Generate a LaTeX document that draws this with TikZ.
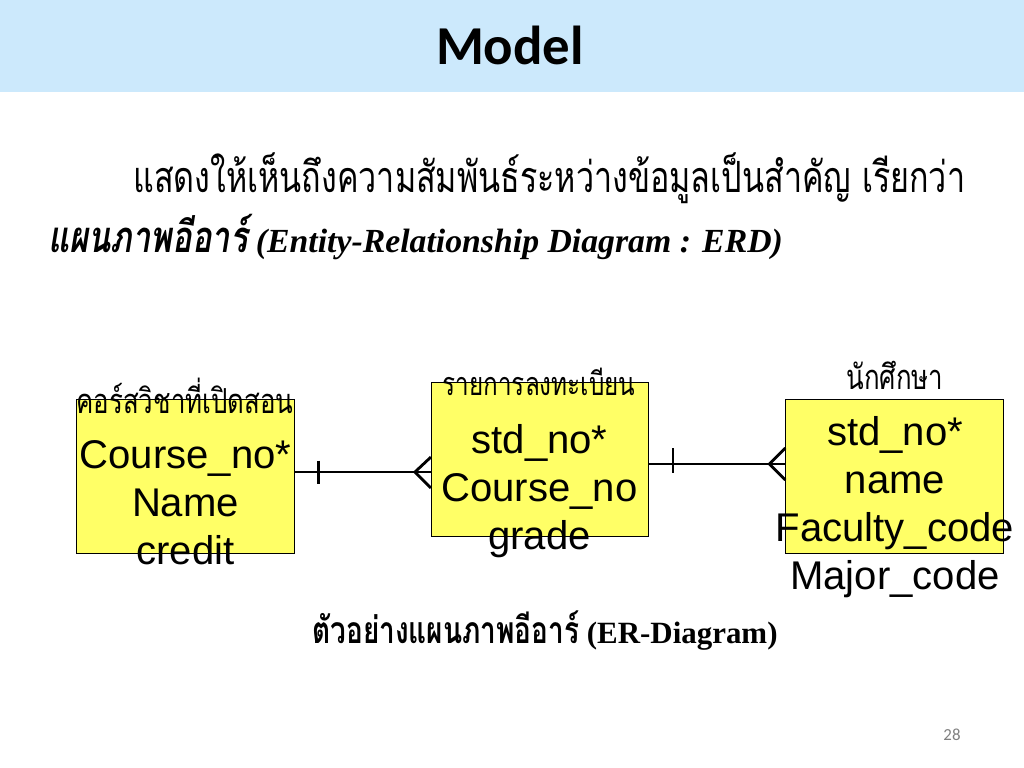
\documentclass[tikz,border=0pt]{standalone}
\usepackage{fontspec}
\setmainfont{Liberation Serif}
\setsansfont{Liberation Sans}
\newfontfamily\thaifont[Script=Thai,FakeStretch=0.75]{Loma}
\newfontfamily\slidefont{Carlito}
\usetikzlibrary{calc}
\definecolor{barblue}{RGB}{204,233,252}
\definecolor{entyellow}{RGB}{255,255,102}
\tikzstyle{entity}=[draw, fill=entyellow, line width=0.6pt, inner sep=0pt, minimum width=5.43cm, minimum height=3.85cm]
\tikzstyle{attr}=[align=center, inner sep=0pt, font=\sffamily\fontsize{28.5}{34}\selectfont]
\tikzstyle{ename}=[inner sep=0pt, anchor=base, font=\thaifont\fontsize{24.5}{24.5}\selectfont]
\tikzstyle{link}=[line width=2pt]

\begin{document}
\begin{tikzpicture}[x=0.025cm, y=-0.025cm]
\useasboundingbox (0,0) rectangle (1024,768);
\path[fill=white] (0,0) rectangle (1024,768);
% the title bar
\fill[barblue] (0,0) rectangle (1024,92);
\node[anchor=base, inner sep=0pt, font=\slidefont\bfseries\fontsize{39}{39}\selectfont] (title) at (510,65) {Model};
% the text
\node[anchor=base west, inner sep=0pt, font=\thaifont\fontsize{30.6}{30.6}\selectfont] (intro) at (133,192) {แสดงให้เห็นถึงความสัมพันธ์ระหว่างข้อมูลเป็นสำคัญ เรียกว่า};
\node[anchor=base west, inner sep=0pt] (erd) at (48,252) {{\thaifont\bfseries\itshape\fontsize{31}{31}\selectfont แผนภาพอีอาร์}{\bfseries\itshape\fontsize{24}{24}\selectfont\ (Entity-Relationship Diagram : ERD)}};
% the entities
\node[entity] (course) at (185.5,476) {};
\node[entity] (reg) at (540,459) {};
\node[entity] (stud) at (894.5,476.5) {};
\node[ename] (courseName) at (185,413) {คอร์สวิชาที่เปิดสอน};
\node[ename, font=\thaifont\fontsize{23}{23}\selectfont] (regName) at (539,395) {รายการลงทะเบียน};
\node[ename] (studName) at (895,389) {นักศึกษา};
\node[attr] (courseAttr) at (185.5,503) {Course\_no*\\Name\\credit};
\node[attr] (regAttr) at (539.5,491) {std\_no*\\Course\_no\\grade};
\node[attr] (studAttr) at (895,507) {std\_no*\\name\\Faculty\_code\\Major\_code};
% the links
\draw[link] ($(course.east)+(0,-4)$) -- ($(reg.west)+(0,13)$);
\draw[link] ($(course.east)+(24,-15.5)$) -- ++(0,23);
\draw[link] ($(reg.west)+(0,-2)$) -- ($(reg.west)+(-16,13)$) -- ($(reg.west)+(0,29)$);
\draw[link] ($(reg.east)+(0,5)$) -- ($(stud.west)+(0,-12.5)$);
\draw[link] ($(reg.east)+(24,-11)$) -- ++(0,25);
\draw[link] ($(stud.west)+(0,-28.5)$) -- ($(stud.west)+(-16,-12.5)$) -- ($(stud.west)+(0,3.5)$);
% the caption
\node[anchor=base, inner sep=0pt] (caption) at (545,643) {{\thaifont\bfseries\fontsize{26.5}{26.5}\selectfont ตัวอย่างแผนภาพอีอาร์}{\bfseries\fontsize{22}{22}\selectfont\ (ER-Diagram)}};
\node[anchor=base, inner sep=0pt, text=gray, font=\slidefont\fontsize{12}{12}\selectfont] (page) at (952,740) {28};
\end{tikzpicture}
\end{document}
